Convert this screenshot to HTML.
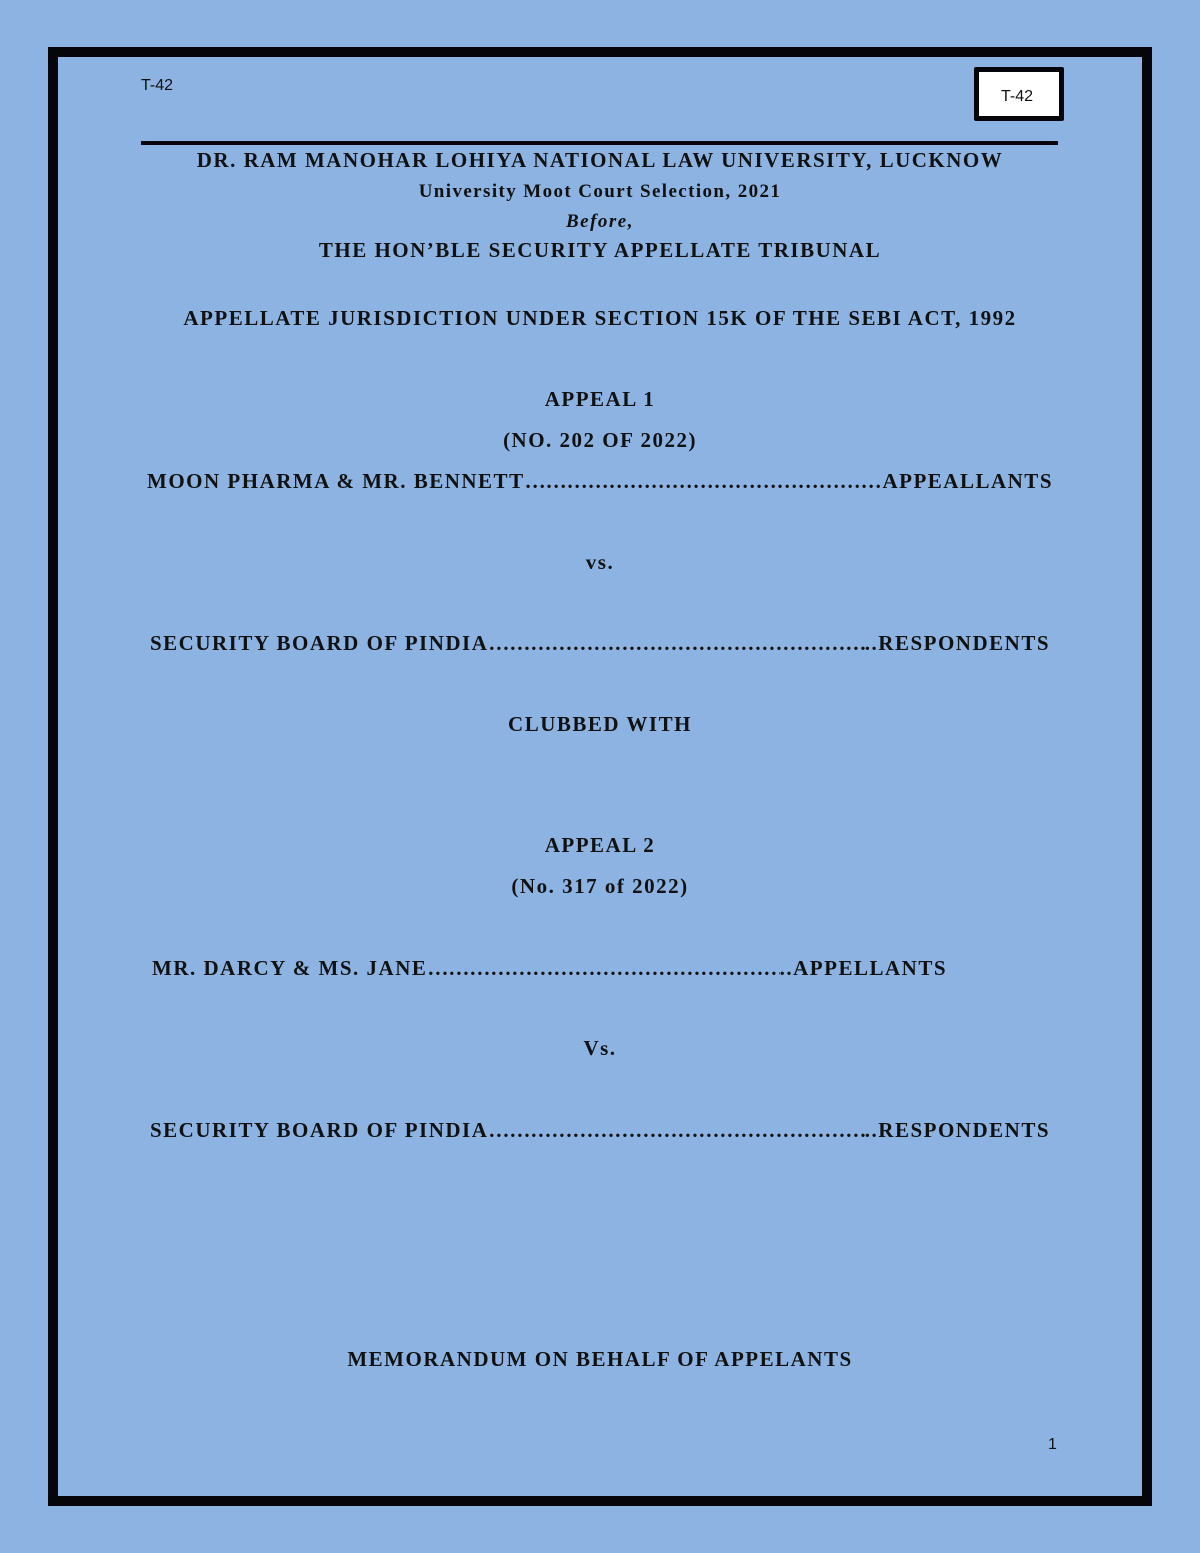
<!DOCTYPE html>
<html><head><meta charset="utf-8"><style>
body{margin:0;width:1200px;height:1553px;background:#8db3e2;position:relative;overflow:hidden;font-family:"Liberation Serif",serif;}
.frame{position:absolute;left:48px;top:47px;width:1084px;height:1439px;border:10px solid #05050a;}
.t{position:absolute;font-family:"Liberation Sans",sans-serif;font-size:16px;color:#111;}
.box{position:absolute;left:974px;top:67px;width:80px;height:44px;border:5px solid #05050a;background:#fff;border-radius:2px;}
.rule{position:absolute;left:141px;top:141px;width:917px;height:4px;background:#05050a;}
.c{position:absolute;left:0;width:1200px;text-align:center;font-weight:bold;font-size:21px;letter-spacing:1.5px;color:#111;line-height:24px;}
.row{position:absolute;display:flex;font-weight:bold;font-size:21px;letter-spacing:1.5px;color:#111;line-height:24px;white-space:nowrap;}
.row .d{flex:1;overflow:hidden;letter-spacing:0px;}
</style></head><body>
<div class="frame"></div>
<div class="t" style="left:141px;top:77px;">T-42</div>
<div class="box"></div>
<div class="t" style="left:1001px;top:88px;">T-42</div>
<div class="rule"></div>
<div class="c" style="top:148px;">DR. RAM MANOHAR LOHIYA NATIONAL LAW UNIVERSITY, LUCKNOW</div>
<div class="c" style="top:180px;font-size:19px;letter-spacing:1.4px;">University Moot Court Selection, 2021</div>
<div class="c" style="top:210px;font-size:19px;font-style:italic;">Before,</div>
<div class="c" style="top:238px;">THE HON’BLE SECURITY APPELLATE TRIBUNAL</div>
<div class="c" style="top:306px;">APPELLATE JURISDICTION UNDER SECTION 15K OF THE SEBI ACT, 1992</div>
<div class="c" style="top:387px;">APPEAL 1</div>
<div class="c" style="top:428px;">(NO. 202 OF 2022)</div>
<div class="row" style="left:147px;width:906px;top:469px;"><span>MOON PHARMA &amp; MR. BENNETT</span><span class="d">………………………………………………………………………………</span><span>APPEALLANTS</span></div>
<div class="c" style="top:550px;">vs.</div>
<div class="row" style="left:150px;width:900px;top:631px;"><span>SECURITY BOARD OF PINDIA</span><span class="d">………………………………………………………………………………</span><span>..RESPONDENTS</span></div>
<div class="c" style="top:712px;">CLUBBED WITH</div>
<div class="c" style="top:833px;">APPEAL 2</div>
<div class="c" style="top:874px;">(No. 317 of 2022)</div>
<div class="row" style="left:152px;width:795px;top:956px;"><span>MR. DARCY &amp; MS. JANE</span><span class="d">………………………………………………………………………………</span><span>..APPELLANTS</span></div>
<div class="c" style="top:1036px;">Vs.</div>
<div class="row" style="left:150px;width:900px;top:1118px;"><span>SECURITY BOARD OF PINDIA</span><span class="d">………………………………………………………………………………</span><span>..RESPONDENTS</span></div>
<div class="c" style="top:1347px;">MEMORANDUM ON BEHALF OF APPELANTS</div>
<div class="t" style="left:1048px;top:1436px;">1</div>
</body></html>
